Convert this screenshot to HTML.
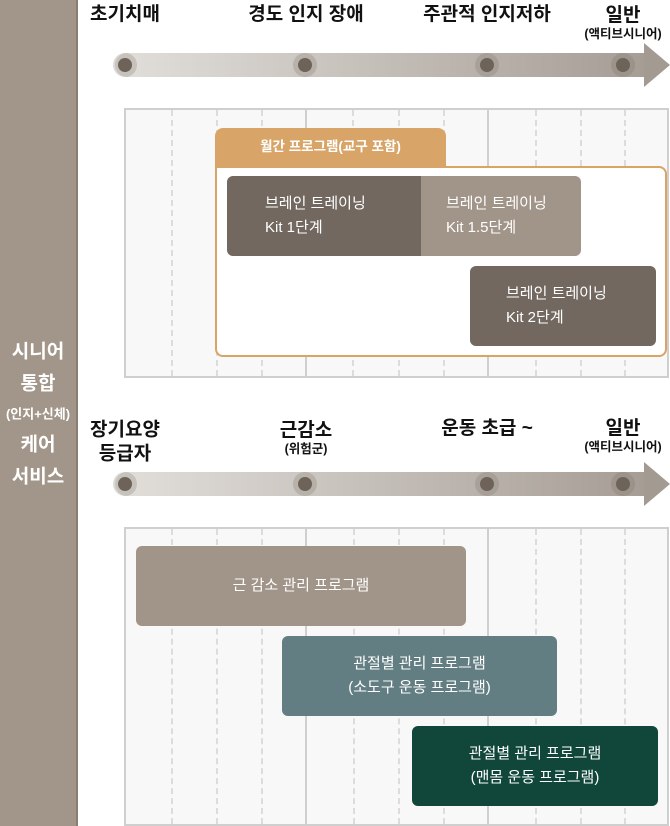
<!DOCTYPE html>
<html><head><meta charset="utf-8"><style>
*{margin:0;padding:0;box-sizing:border-box}
body{width:670px;height:826px;background:#fff;position:relative;overflow:hidden;font-family:"Liberation Sans","Noto Sans CJK KR",sans-serif}
.a{position:absolute}
.side{left:0;top:0;width:78px;height:826px;background:#a29589;border-right:2px solid #8b7f74}
.st{position:absolute;left:0;width:76px;text-align:center;color:#fff;font-weight:bold;transform:translateY(-50%)}
.lbl{position:absolute;transform:translate(-50%,-50%);text-align:center;font-weight:bold;color:#111;white-space:nowrap;line-height:1.15}
.lbl small{display:block;font-size:12.5px;font-weight:bold}
.shaft{position:absolute;left:115px;width:530px;height:24px;background:linear-gradient(90deg,#e2dfdb,#a69d95);border-radius:12px 0 0 12px}
.head{position:absolute;left:644px;width:0;height:0;border-top:22px solid transparent;border-bottom:22px solid transparent;border-left:26px solid #a39a92}
.dot{position:absolute;width:24px;height:24px;border-radius:50%;background:rgba(120,110,100,.25);transform:translate(-50%,-50%)}
.dot::after{content:"";position:absolute;left:5px;top:5px;width:14px;height:14px;border-radius:50%;background:#6e6358}
.grid{position:absolute;left:124px;width:545px;background:#f8f8f8;border:2px solid #cfcfcf}
.vs{position:absolute;top:0;bottom:0;width:2px;background:#cfcfcf}
.vd{position:absolute;top:0;bottom:0;width:0;border-left:2px dashed #dcdcdc}
.box{position:absolute;color:#fff;font-size:15px;line-height:1.6;display:flex;align-items:center}
</style></head><body>
<div class="a side"></div>
<div class="st" style="top:350px;font-size:19px">시니어</div>
<div class="st" style="top:382px;font-size:19px">통합</div>
<div class="st" style="top:413px;font-size:13px">(인지+신체)</div>
<div class="st" style="top:443px;font-size:19px">케어</div>
<div class="st" style="top:475px;font-size:19px">서비스</div>

<div class="lbl" style="left:125px;top:15px;font-size:19px">초기치매</div>
<div class="lbl" style="left:306px;top:15px;font-size:19px">경도 인지 장애</div>
<div class="lbl" style="left:487px;top:15px;font-size:19px">주관적 인지저하</div>
<div class="lbl" style="left:623px;top:23px;font-size:19px">일반<small>(액티브시니어)</small></div>
<div class="shaft" style="top:53px"></div>
<div class="head" style="top:43px"></div>
<div class="dot" style="left:125px;top:65px"></div>
<div class="dot" style="left:305px;top:65px"></div>
<div class="dot" style="left:487px;top:65px"></div>
<div class="dot" style="left:623px;top:65px"></div>

<div class="grid" style="top:108px;height:270px">
<div class="vd" style="left:45px"></div><div class="vd" style="left:90px"></div><div class="vd" style="left:135px"></div>
<div class="vs" style="left:179px"></div>
<div class="vd" style="left:226px"></div><div class="vd" style="left:272px"></div><div class="vd" style="left:317px"></div>
<div class="vs" style="left:361px"></div>
<div class="vd" style="left:409px"></div><div class="vd" style="left:454px"></div><div class="vd" style="left:498px"></div>
</div>
<div class="a" style="left:215px;top:128px;width:231px;height:40px;background:#d9a468;border-radius:8px 8px 0 0;color:#fff;font-weight:bold;font-size:13.5px;text-align:center;line-height:38px">월간 프로그램(교구 포함)</div>
<div class="a" style="left:215px;top:166px;width:452px;height:191px;background:#fff;border:2px solid #d9a468;border-radius:0 8px 8px 8px"></div>
<div class="box" style="left:227px;top:176px;width:194px;height:80px;background:#726860;border-radius:6px 0 0 6px;padding-left:38px">브레인 트레이닝<br>Kit 1단계</div>
<div class="box" style="left:421px;top:176px;width:160px;height:80px;background:#a19489;border-radius:0 6px 6px 0;padding-left:25px">브레인 트레이닝<br>Kit 1.5단계</div>
<div class="box" style="left:470px;top:266px;width:186px;height:80px;background:#726860;border-radius:6px;padding-left:36px">브레인 트레이닝<br>Kit 2단계</div>

<div class="lbl" style="left:125px;top:442px;font-size:19px;line-height:1.25">장기요양<br>등급자</div>
<div class="lbl" style="left:306px;top:438px;font-size:19px">근감소<small>(위험군)</small></div>
<div class="lbl" style="left:487px;top:429px;font-size:19px">운동 초급 ~</div>
<div class="lbl" style="left:623px;top:436px;font-size:19px">일반<small>(액티브시니어)</small></div>
<div class="shaft" style="top:472px"></div>
<div class="head" style="top:462px"></div>
<div class="dot" style="left:125px;top:484px"></div>
<div class="dot" style="left:305px;top:484px"></div>
<div class="dot" style="left:487px;top:484px"></div>
<div class="dot" style="left:623px;top:484px"></div>

<div class="grid" style="top:527px;height:299px">
<div class="vd" style="left:45px"></div><div class="vd" style="left:90px"></div><div class="vd" style="left:135px"></div>
<div class="vs" style="left:179px"></div>
<div class="vd" style="left:227px"></div><div class="vd" style="left:272px"></div><div class="vd" style="left:317px"></div>
<div class="vs" style="left:361px"></div>
<div class="vd" style="left:409px"></div><div class="vd" style="left:454px"></div><div class="vd" style="left:498px"></div>
</div>
<div class="box" style="left:136px;top:546px;width:330px;height:80px;background:#a19489;border-radius:6px;justify-content:center;text-align:center">근 감소 관리 프로그램</div>
<div class="box" style="left:282px;top:636px;width:275px;height:80px;background:#637e82;border-radius:6px;justify-content:center;text-align:center">관절별 관리 프로그램<br>(소도구 운동 프로그램)</div>
<div class="box" style="left:412px;top:726px;width:246px;height:80px;background:#10473a;border-radius:6px;justify-content:center;text-align:center">관절별 관리 프로그램<br>(맨몸 운동 프로그램)</div>
</body></html>
